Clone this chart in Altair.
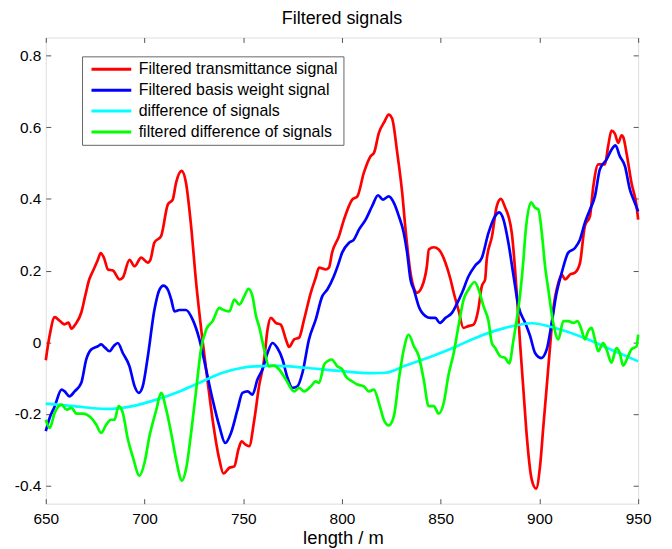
import altair as alt
import pandas as pd

# ---------------- data ----------------
series_names = [
    "Filtered transmittance signal",
    "Filtered basis weight signal",
    "difference of signals",
    "filtered difference of signals",
]
series_colors = ["#ff0000", "#0000ff", "#00ffff", "#00ff00"]

x_ticks = [650, 700, 750, 800, 850, 900, 950]
y_ticks = [-0.4, -0.2, 0, 0.2, 0.4, 0.6, 0.8]

red_x = [650, 652, 654.5, 657, 659.6, 661.5, 663, 665, 668, 670, 672, 674, 676.4, 677.8, 679.5,
         681.5, 684, 687.4, 689, 692.4, 695, 698.3, 701.7, 703, 705, 708.4, 711.8, 714.3, 716,
         718.8, 721, 723.6, 726, 729.5, 732, 734.5, 737.9, 740, 743, 745.5, 747.5, 749.2, 751,
         753, 755.6, 758, 760.6, 762.3, 764, 766.5, 769, 771.6, 773.2, 775.8, 778.3, 780.8,
         784.2, 786.7, 788.4, 791.8, 793.4, 795, 798.5, 801, 805.2, 807.8, 811.1, 814.5, 816.2,
         818.7, 821.5, 823.7, 825.4, 828, 830.5, 832.2, 834.7, 836.5, 838, 840.6, 843, 844,
         846.5, 849, 852.4, 855, 856.6, 859, 861.5, 864, 866.6, 869, 870.8, 872.5, 873.3, 876,
         878.4, 880.5, 882.7, 884.3, 886, 887.7, 888.5, 890.3, 892, 893.6, 896.1, 898.3, 900.3,
         902, 903.7, 905.4, 907, 909.6, 911.3, 913, 915.5, 918, 920.5, 923, 925.6, 927.3, 929.8,
         933.2, 934.8, 936.5, 938.2, 939.9, 941.6, 942.4, 944.1, 946.6, 949.2, 950]
red_y = [-0.05, 0.02, 0.07, 0.06, 0.05, 0.055, 0.038, 0.05, 0.083, 0.13, 0.175, 0.2, 0.23, 0.249,
         0.235, 0.203, 0.2, 0.175, 0.18, 0.23, 0.212, 0.236, 0.222, 0.23, 0.278, 0.296, 0.384,
         0.398, 0.445, 0.478, 0.445, 0.324, 0.175, 0.0, -0.11, -0.216, -0.327, -0.366, -0.35,
         -0.346, -0.3, -0.276, -0.285, -0.29, -0.216, -0.123, -0.048, 0.035, 0.068, 0.054, 0.049,
         0.008, -0.013, 0.008, 0.013, 0.063, 0.138, 0.18, 0.208, 0.203, 0.208, 0.25, 0.296, 0.342,
         0.398, 0.407, 0.473, 0.519, 0.528, 0.584, 0.615, 0.635, 0.624, 0.528, 0.417, 0.314,
         0.194, 0.15, 0.138, 0.156, 0.212, 0.259, 0.265, 0.259, 0.222, 0.175, 0.138, 0.09, 0.04,
         0.045, 0.049, 0.09, 0.156, 0.175, 0.23, 0.296, 0.38, 0.4, 0.375, 0.352, 0.305, 0.2,
         0.138, -0.011, -0.141, -0.262, -0.383, -0.408, -0.346, -0.234, -0.123, -0.011, 0.09,
         0.166, 0.189, 0.175, 0.189, 0.194, 0.22, 0.324, 0.352, 0.435, 0.496, 0.496, 0.547, 0.59,
         0.582, 0.556, 0.577, 0.573, 0.528, 0.445, 0.38, 0.342]

blue_x = [650, 652, 654.5, 658, 659.6, 662, 664.6, 668, 670.5, 673, 676.4, 678, 680, 682.3, 684.5,
          686.5, 689, 692.4, 695, 697.1, 699.1, 701.7, 705, 707.6, 709.6, 711.8, 713.5, 715.2,
          717.7, 721, 724.4, 727.8, 731.2, 734.5, 737.9, 740.9, 743.8, 747.1, 749.6, 752.2, 754.7,
          757.2, 759.7, 762.3, 764.8, 767.3, 769.9, 772.4, 774.9, 777.4, 780, 783.3, 786.7, 790,
          792.6, 795.9, 798, 800.1, 803.5, 806, 808.6, 812, 815.3, 818.3, 820.7, 823.7, 826.3,
          828.8, 831.3, 833, 834.7, 836.4, 838.9, 842.3, 844.8, 847.3, 849.5, 852.4, 855.7, 858,
          860.8, 864.1, 867.5, 870.8, 874.2, 877.6, 879.6, 881.8, 884.3, 886.9, 889.4, 892.8,
          895.3, 897.8, 900.9, 903.7, 906.2, 908.7, 911.3, 914.6, 918, 920.5, 923, 925.6, 928.1,
          930.6, 934, 936.5, 938.5, 940.7, 943.3, 945.8, 948.3, 950]
blue_y = [-0.248, -0.21, -0.179, -0.132, -0.137, -0.151, -0.137, -0.113, -0.048, -0.02, -0.011,
          -0.006, -0.015, -0.025, -0.01, -0.002, -0.03, -0.067, -0.123, -0.141, -0.123, -0.039,
          0.09, 0.147, 0.158, 0.147, 0.12, 0.086, 0.09, 0.09, 0.063, 0.008, -0.076, -0.16, -0.234,
          -0.281, -0.253, -0.188, -0.141, -0.137, -0.146, -0.104, -0.076, -0.03, -0.002, -0.016,
          -0.048, -0.099, -0.127, -0.123, -0.085, 0.008, 0.063, 0.128, 0.147, 0.184, 0.215, 0.25,
          0.277, 0.286, 0.314, 0.342, 0.38, 0.41, 0.398, 0.407, 0.389, 0.352, 0.305, 0.25, 0.175,
          0.147, 0.1, 0.073, 0.068, 0.068, 0.054, 0.068, 0.082, 0.105, 0.138, 0.184, 0.214, 0.235,
          0.305, 0.352, 0.362, 0.342, 0.277, 0.185, 0.1, 0.054, 0.017, -0.03, -0.044, -0.02,
          0.054, 0.138, 0.194, 0.25, 0.263, 0.286, 0.333, 0.37, 0.407, 0.482, 0.51, 0.537, 0.549,
          0.519, 0.491, 0.426, 0.389, 0.365]

cyan_x = [650, 664, 680.6, 694, 706, 717.7, 727.8, 739.6, 749.6, 757.2, 764.8, 781.6, 798.5,
          815.3, 822, 832.2, 845.6, 858.2, 865.8, 882.7, 896.1, 907.9, 924.7, 938.2, 950]
cyan_y = [-0.171, -0.178, -0.186, -0.178, -0.16, -0.137, -0.113, -0.085, -0.071, -0.067, -0.065,
          -0.071, -0.08, -0.086, -0.085, -0.065, -0.039, -0.011, 0.008, 0.04, 0.053, 0.04, 0.008,
          -0.025, -0.053]

green_x = [650, 652, 654.5, 658, 660.6, 663, 665.6, 668.8, 673, 675.6, 678, 680.6, 683, 684.8,
           686.9, 689, 691.6, 694, 697.5, 700, 702.5, 706, 708.4, 711, 713.5, 716, 719, 721,
           723.6, 726, 728.6, 731.2, 734.5, 737.9, 739.6, 743, 745.5, 748, 750.5, 752.7, 754.7,
           756.4, 758, 760.6, 763.1, 765.7, 768.2, 771.6, 775.8, 778.3, 780.8, 784.2, 786.7,
           788.4, 791, 792.6, 794.8, 797.6, 800.2, 801.9, 805.2, 807.8, 811.1, 813.6, 816.2,
           818.7, 821.2, 823.7, 826.3, 828.8, 831.3, 833.8, 836.4, 838.9, 841.4, 843.9, 846.5,
           849, 851.5, 854, 856.6, 859, 861.6, 864.1, 867.2, 869.2, 871.7, 874.2, 875.9, 877.6,
           880.2, 882.7, 884.7, 886.9, 888.5, 890.3, 891.9, 892.8, 895.8, 897.8, 899.5, 901.2,
           902.9, 904.5, 907, 909.6, 912.1, 914.6, 917.2, 919.3, 921.3, 923, 924.7, 926.4, 928.1,
           929.8, 932.3, 934, 936.5, 939, 940.7, 942.4, 944.9, 946.6, 949.2, 950]
green_y = [-0.216, -0.239, -0.197, -0.174, -0.188, -0.183, -0.199, -0.199, -0.211, -0.23, -0.253,
           -0.23, -0.216, -0.216, -0.178, -0.197, -0.271, -0.318, -0.372, -0.336, -0.262, -0.188,
           -0.141, -0.188, -0.253, -0.327, -0.386, -0.355, -0.253, -0.141, -0.02, 0.035, 0.059,
           0.096, 0.091, 0.086, 0.119, 0.105, 0.128, 0.149, 0.128, 0.075, 0.045, -0.02, -0.067,
           -0.065, -0.076, -0.104, -0.137, -0.127, -0.137, -0.123, -0.109, -0.113, -0.062, -0.053,
           -0.048, -0.067, -0.076, -0.095, -0.109, -0.118, -0.123, -0.137, -0.132, -0.169, -0.216,
           -0.232, -0.206, -0.104, -0.02, 0.021, -0.011, -0.039, -0.104, -0.178, -0.178, -0.199,
           -0.17, -0.09, -0.03, 0.045, 0.119, 0.147, 0.168, 0.147, 0.1, 0.059, -0.002, -0.016,
           -0.039, -0.044, -0.059, 0.008, 0.063, 0.138, 0.23, 0.296, 0.39, 0.375, 0.37, 0.305,
           0.21, 0.147, 0.054, 0.008, 0.059, 0.059, 0.054, 0.059, 0.035, 0.008, 0.031, 0.04,
           0.008, -0.025, -0.002, -0.02, -0.057, -0.016, -0.03, -0.065, -0.039, -0.02, -0.011,
           0.021]

# ---------------- table ----------------
all_x = [red_x, blue_x, cyan_x, green_x]
all_y = [red_y, blue_y, cyan_y, green_y]
rows = []
for name, xs, ys in zip(series_names, all_x, all_y):
    for xv, yv in zip(xs, ys):
        rows.append({"length": xv, "value": yv, "series": name})
df = pd.DataFrame(rows)

FONT = "Liberation Sans"
FRAME = "#555555"

xscale = alt.Scale(domain=[650, 950], nice=False, zero=False)
yscale = alt.Scale(domain=[-0.45, 0.85], nice=False, zero=False)
cscale = alt.Scale(domain=series_names, range=series_colors)

ylabel_expr = "datum.value == 0 ? '0' : (datum.value < 0 ? '-' : '') + format(abs(datum.value), '.1f')"

x_axis = alt.Axis(values=x_ticks, title="length / m", offset=-5, tickSize=5, domain=False,
                  grid=False, labelPadding=8, labelFont=FONT, labelFontSize=15.5,
                  labelColor="black", tickColor=FRAME, titleFont=FONT, titleFontSize=18.5,
                  titleFontWeight="normal", titleColor="black", titleBaseline="alphabetic",
                  titleY=45, titleX=299, labelFlush=False)
y_axis = alt.Axis(values=y_ticks, title=None, offset=-5, tickSize=5, domain=False, grid=False,
                  labelPadding=5, labelFont=FONT, labelFontSize=15.5, labelColor="black",
                  tickColor=FRAME, labelExpr=ylabel_expr, labelFlush=False)

legend = alt.Legend(title=None, orient="none", legendX=36.5, legendY=19,
                    symbolType="stroke", symbolSize=1600, symbolStrokeWidth=3,
                    clipHeight=16, rowPadding=5, labelFont=FONT, labelFontSize=16,
                    labelColor="black", labelOffset=6, labelLimit=0, padding=5,
                    strokeColor="#666666", fillColor="white", symbolOffset=3)

layers = []
for name in series_names:
    layers.append(
        alt.Chart(df).transform_filter(alt.datum.series == name)
        .mark_line(strokeWidth=2.7, interpolate="monotone")
        .encode(
            x=alt.X("length:Q", scale=xscale, axis=x_axis),
            y=alt.Y("value:Q", scale=yscale, axis=y_axis),
            color=alt.Color("series:N", scale=cscale, legend=legend),
        )
    )
lines = alt.layer(*layers)

# top and right axes (MATLAB box with inward ticks)
frame = alt.Chart(df).transform_filter(alt.datum.series == series_names[2]).mark_line(opacity=0).encode(
    x=alt.X("length:Q", scale=xscale,
            axis=alt.Axis(orient="top", values=x_ticks, title=None, labels=False, offset=-5,
                          tickSize=5, domain=False, grid=False, tickColor=FRAME)),
    y=alt.Y("value:Q", scale=yscale,
            axis=alt.Axis(orient="right", values=y_ticks, title=None, labels=False, offset=-5,
                          tickSize=5, domain=False, grid=False, tickColor=FRAME)),
)

chart = (
    alt.layer(lines, frame)
    .resolve_scale(x="independent", y="independent")
    .properties(
        width=596, height=469,
        title=alt.TitleParams("Filtered signals", font=FONT, fontSize=18, fontWeight="normal",
                              color="black", anchor="middle", baseline="alphabetic", offset=12.5,
                              dy=17),
        autosize=alt.AutoSizeParams(type="none"),
        padding={"left": 38, "top": 28, "right": 26, "bottom": 45},
    )
    .configure_view(stroke=FRAME, strokeWidth=1)
    .configure(background="white")
)

chart.save("out.html", embed_options={"renderer": "svg", "actions": False})
